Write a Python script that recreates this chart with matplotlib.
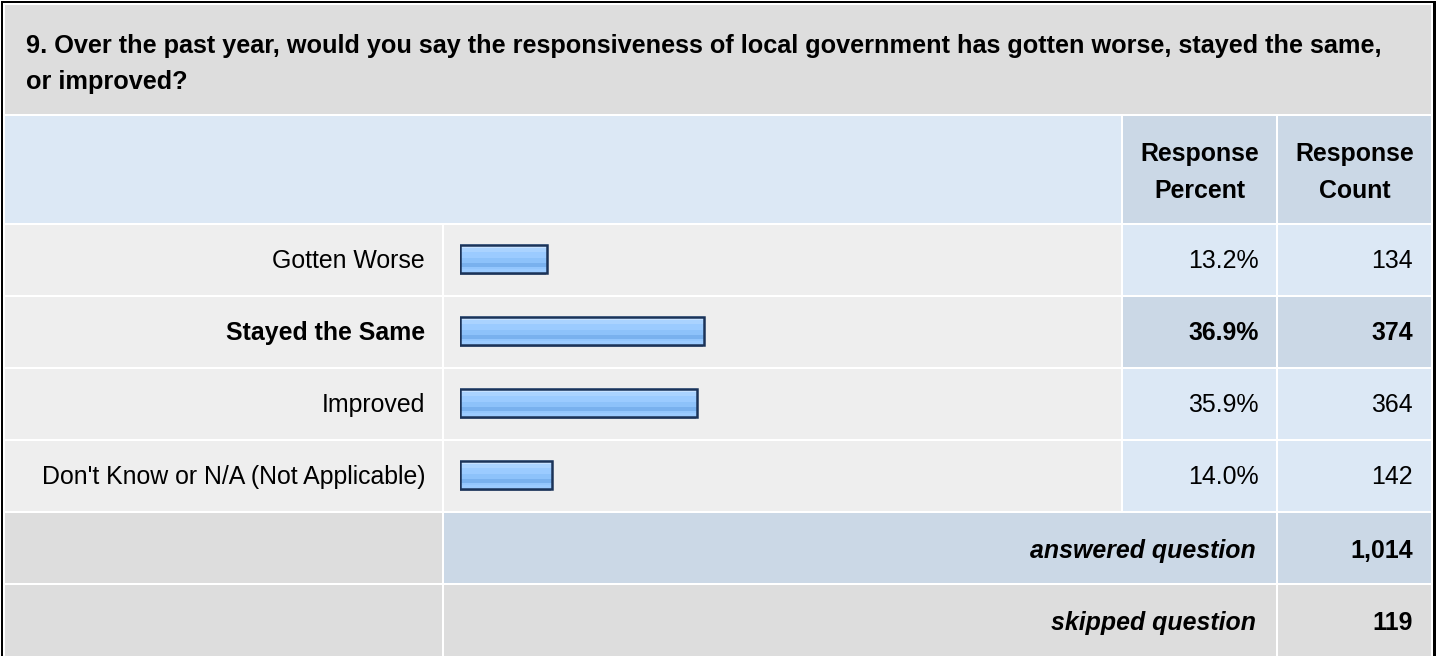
import numpy as np
import matplotlib.pyplot as plt
from matplotlib.patches import Rectangle
from matplotlib.colors import to_rgb

plt.rcParams['font.family'] = ['Liberation Sans', 'DejaVu Sans']

question_1 = "9. Over the past year, would you say the responsiveness of local government has gotten worse, stayed the same,"
question_2 = "or improved?"
answers = ["Gotten Worse", "Stayed the Same", "Improved", "Don't Know or N/A (Not Applicable)"]
percents = [13.2, 36.9, 35.9, 14.0]
counts = [134, 374, 364, 142]
bold_row = [False, True, False, False]
answered = 1014
skipped = 119

W, H = 1437, 656
fs = 17.9

fig = plt.figure(figsize=(W / 100, H / 100), dpi=100)
ax = fig.add_axes([0, 0, 1, 1])
ax.set_xlim(0, W)
ax.set_ylim(H, 0)
ax.axis('off')

GRAY = '#dddddd'
LIGHT = '#eeeeee'
BLUE = '#dce8f5'
DBLUE = '#cbd8e6'


def cell(x0, x1, y0, y1, color):
    ax.add_patch(Rectangle((x0, y0), x1 - x0, y1 - y0, facecolor=color, edgecolor='none'))


# outer frame
ax.add_patch(Rectangle((1, 1), 1435, 700, facecolor='black', edgecolor='none'))
ax.add_patch(Rectangle((3, 3), 1430, 700, facecolor='white', edgecolor='none'))

# columns
c_lab = (5, 442)
c_bar = (444, 1121)
c_pct = (1123, 1276)
c_cnt = (1278, 1431)

# title
cell(5, 1431, 5, 114, GRAY)
ax.text(26, 52.5, question_1, fontsize=fs + 0.3, fontweight='bold', va='baseline', ha='left')
ax.text(26, 88.5, question_2, fontsize=fs + 0.3, fontweight='bold', va='baseline', ha='left')

# header
cell(5, 1121, 116, 223, BLUE)
cell(*c_pct, 116, 223, DBLUE)
cell(*c_cnt, 116, 223, DBLUE)
for col, word in [(c_pct, "Percent"), (c_cnt, "Count")]:
    xc = (col[0] + col[1]) / 2
    ax.text(xc, 161.5, "Response", fontsize=fs, fontweight='bold', ha='center', va='baseline')
    ax.text(xc, 198.5, word, fontsize=fs, fontweight='bold', ha='center', va='baseline')

# answer rows
row_top = [225 + 72 * i for i in range(len(answers))]
for i, (name, p, n, b) in enumerate(zip(answers, percents, counts, bold_row)):
    y0 = row_top[i]
    y1 = y0 + 70
    cell(*c_lab, y0, y1, LIGHT)
    cell(*c_bar, y0, y1, LIGHT)
    cell(*c_pct, y0, y1, DBLUE if b else BLUE)
    cell(*c_cnt, y0, y1, DBLUE if b else BLUE)
    w = 'bold' if b else 'normal'
    ax.text(425, y0 + 43, name, fontsize=fs, fontweight=w, ha='right', va='baseline')
    ax.text(1259, y0 + 43, f"{p:.1f}%", fontsize=fs, fontweight=w, ha='right', va='baseline')
    ax.text(1413, y0 + 43, f"{n:,}", fontsize=fs, fontweight=w, ha='right', va='baseline')

# summary rows
y0 = 225 + 72 * 4
cell(*c_lab, y0, y0 + 70, GRAY)
cell(c_bar[0], c_pct[1], y0, y0 + 70, DBLUE)
cell(*c_cnt, y0, y0 + 70, DBLUE)
ax.text(1256, y0 + 45, "answered question", fontsize=fs, fontweight='bold', style='italic', ha='right', va='baseline')
ax.text(1413, y0 + 45, f"{answered:,}", fontsize=fs, fontweight='bold', ha='right', va='baseline')

y0 = 225 + 72 * 5
cell(*c_lab, y0, H + 5, GRAY)
cell(c_bar[0], c_pct[1], y0, H + 5, GRAY)
cell(*c_cnt, y0, H + 5, GRAY)
ax.text(1256, y0 + 45, "skipped question", fontsize=fs, fontweight='bold', style='italic', ha='right', va='baseline')
ax.text(1413, y0 + 45, f"{skipped:,}", fontsize=fs, fontweight='bold', ha='right', va='baseline')

# bars: own axes, 0-100 %
bx = fig.add_axes([460 / W, (H - 511) / H, 660 / W, 288 / H])
bx.set_facecolor('none')
bx.axis('off')

stops = ['#c6e1ff', '#c6e1ff', '#aad3ff', '#aad3ff', '#9bcbff', '#9bcbff', '#9bcbff',
         '#8dc2fa', '#8dc2fa', '#79b1ee', '#79b1ee', '#93c6fd', '#9bcbff', '#9bcbff']
grad = np.array([to_rgb(c) for c in stops])[:, None, :]

bh = 0.40
ypos = np.arange(len(percents))
bx.barh(ypos + 0.025, percents, height=bh, left=-0.15, color='#8e9bb0', edgecolor='none', zorder=1)
for i, p in enumerate(percents):
    bx.imshow(grad, extent=(0, p, i + bh / 2, i - bh / 2), aspect='auto',
              interpolation='nearest', zorder=2)
bx.barh(ypos, percents, height=bh, facecolor='none', edgecolor='#1b3358', linewidth=1.8, zorder=3)
bx.set_xlim(0, 100)
bx.set_ylim(len(percents) - 0.5, -0.5)

fig.savefig('out.png', dpi=100)
